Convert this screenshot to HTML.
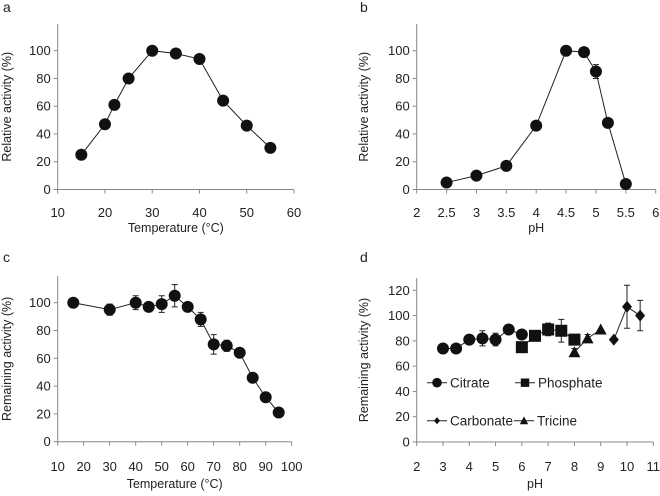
<!DOCTYPE html>
<html><head><meta charset="utf-8"><style>
body{margin:0;background:#fff;}
svg{font-family:"Liberation Sans",Arial,sans-serif;}
text{fill:#222;}
</style></head><body>
<svg id="s" width="660" height="491" xmlns="http://www.w3.org/2000/svg"></svg>
<script>
const aX=[15,20,22,25,30,35,40,45,50,55];
const aY=[25,47,61,80,100,98,94,64,46,30];
const bX=[2.5,3,3.5,4,4.5,4.8,5,5.2,5.5];
const bY=[5,10,17,46,100,99,85,48,4];
const bE=[0,0,0,3,0,0,5,3,0];
const cX=[16,30,40,45,50,55,60,65,70,75,80,85,90,95];
const cY=[100,95,100,97,99,105,97,88,70,69,64,46,32,21];
const cE=[0,4,5,0,6,8,3,5,7,4,0,0,0,0];
const citX=[3,3.5,4,4.5,5,5.5,6], citY=[74,74,81,82,81,89,85], citE=[0,0,3,6,5,0,0];
const phoX=[6,6.5,7,7.5,8], phoY=[75,84,89,88,81], phoE=[4,0,5,9,0];
const triX=[8,8.5,9], triY=[71,82,89], triE=[3,3,0];
const carX=[9.5,10,10.5], carY=[81,107,100], carE=[0,17,12];
const aTicksX=[10,20,30,40,50,60], bTicksX=[2,2.5,3,3.5,4,4.5,5,5.5,6];
const cTicksX=[10,20,30,40,50,60,70,80,90,100], dTicksX=[2,3,4,5,6,7,8,9,10,11];
const yTicks100=[0,20,40,60,80,100], yTicks120=[0,20,40,60,80,100,120];

const S=document.getElementById('s'), NS='http://www.w3.org/2000/svg';
function el(t,a,p){const e=document.createElementNS(NS,t);for(const k in a)e.setAttribute(k,a[k]);(p||S).appendChild(e);return e;}
function txt(x,y,s,a,name,p){const e=el('text',Object.assign({x:x,y:y},a),p);e.textContent=s;


return e;}
function panel(cfg){
 const g=el('g',{});
 
 
 const sx=v=>cfg.x0+(v-cfg.xmin)/(cfg.xmax-cfg.xmin)*(cfg.x1-cfg.x0);
 const sy=v=>cfg.y0-(v-0)/(cfg.ymaxT)*(cfg.y0-cfg.yT);
 el('line',{x1:cfg.x0,y1:cfg.y0,x2:cfg.x1,y2:cfg.y0,stroke:'#888','stroke-width':1},g);
 el('line',{x1:cfg.x0,y1:cfg.y0,x2:cfg.x0,y2:cfg.top,stroke:'#888','stroke-width':1},g);
 cfg.xt.forEach(v=>{el('line',{x1:sx(v),y1:cfg.y0,x2:sx(v),y2:cfg.y0+4,stroke:'#888'},g);
  txt(sx(v),cfg.xlY,String(v),{'font-size':13,'text-anchor':'middle'},'x-tick-label',g);});
 cfg.yt.forEach(v=>{el('line',{x1:cfg.x0-4,y1:sy(v),x2:cfg.x0,y2:sy(v),stroke:'#888'},g);
  txt(cfg.x0-7,sy(v)+4.5,String(v),{'font-size':13,'text-anchor':'end'},'y-tick-label',g);});
 txt((cfg.x0+cfg.x1)/2,cfg.xtY,cfg.xtitle,{'font-size':12.5,'text-anchor':'middle'},'x-axis-title',g);
 const yc=(cfg.y0+cfg.top)/2;
 txt(cfg.ytX,yc,cfg.ytitle,{'font-size':12.5,'text-anchor':'middle',transform:`rotate(-90 ${cfg.ytX} ${yc})`},'y-axis-title',g);
 txt(cfg.lx,cfg.ly,cfg.letter,{'font-size':14},'panel-label',g);
 cfg.series.forEach(s=>{
  const pts=s.x.map((v,i)=>sx(v)+','+sy(s.y[i])).join(' ');
  const l=el('polyline',{points:pts,fill:'none',stroke:'#222','stroke-width':1},g);
  
  
  s.x.forEach((v,i)=>{
   const e=s.e?s.e[i]:0, X=sx(v), Y=sy(s.y[i]);
   if(e>0){const t=sy(s.y[i]+e), b=sy(s.y[i]-e);
    el('path',{d:`M${X},${t}V${b}M${X-3},${t}H${X+3}M${X-3},${b}H${X+3}`,stroke:'#222','stroke-width':1,fill:'none'},g);}
   marker(g,s.m,X,Y,s.name+'-point',1);
  });
 });
 return g;
}
function marker(g,m,X,Y,name,k){
 let e;
 if(m==='c')e=el('circle',{cx:X,cy:Y,r:6*k,fill:'#111'},g);
 else if(m==='s')e=el('rect',{x:X-6*k,y:Y-6*k,width:12*k,height:12*k,fill:'#111'},g);
 else if(m==='d')e=el('polygon',{points:`${X},${Y-6*k} ${X+5*k},${Y} ${X},${Y+6*k} ${X-5*k},${Y}`,fill:'#111'},g);
 else e=el('polygon',{points:`${X},${Y-6*k} ${X+6*k},${Y+5*k} ${X-6*k},${Y+5*k}`,fill:'#111'},g);
 
 
}
panel({name:'panel-a',x0:57.7,x1:294,xmin:10,xmax:60,y0:189.5,yT:50.7,ymaxT:100,top:24,xt:aTicksX,yt:yTicks100,xlY:217,xtY:232,xtitle:'Temperature (°C)',ytX:11,ytitle:'Relative activity (%)',lx:3,ly:12,letter:'a',series:[{name:'temperature-activity',x:aX,y:aY,m:'c'}]});
panel({name:'panel-b',x0:416.7,x1:655.7,xmin:2,xmax:6,y0:189.5,yT:50.7,ymaxT:100,top:24,xt:bTicksX,yt:yTicks100,xlY:217,xtY:232,xtitle:'pH',ytX:368,ytitle:'Relative activity (%)',lx:360,ly:12,letter:'b',series:[{name:'ph-activity',x:bX,y:bY,e:bE,m:'c'}]});
panel({name:'panel-c',x0:57.7,x1:291.7,xmin:10,xmax:100,y0:441.7,yT:302.7,ymaxT:100,top:276,xt:cTicksX,yt:yTicks100,xlY:471,xtY:488,xtitle:'Temperature (°C)',ytX:11,ytitle:'Remaining activity (%)',lx:3,ly:262,letter:'c',series:[{name:'thermal-stability',x:cX,y:cY,e:cE,m:'c'}]});
const gd=panel({name:'panel-d',x0:416.7,x1:653.3,xmin:2,xmax:11,y0:442,yT:290.3,ymaxT:120,top:278,xt:dTicksX,yt:yTicks120,xlY:471,xtY:488,xtitle:'pH',ytX:368,ytitle:'Remaining activity (%)',lx:360,ly:262,letter:'d',series:[
 {name:'citrate',x:citX,y:citY,e:citE,m:'c'},{name:'phosphate',x:phoX,y:phoY,e:phoE,m:'s'},
 {name:'tricine',x:triX,y:triY,e:triE,m:'t'},{name:'carbonate',x:carX,y:carY,e:carE,m:'d'}]});
[['Citrate','c',427,382.7,0.8],['Phosphate','s',515,382.7,0.7],['Carbonate','d',427,420.7,0.6],['Tricine','t',514,420.7,0.7]].forEach(([n,m,x,y,k])=>{
 const g=el('g',{},gd);
 
 
 el('line',{x1:x,y1:y,x2:x+20,y2:y,stroke:'#222'},g);
 marker(g,m,x+10,y,'legend-marker',k);
 txt(x+23,y+5,n,{'font-size':13.5},'legend-label',g);
});
</script>
</body></html>
